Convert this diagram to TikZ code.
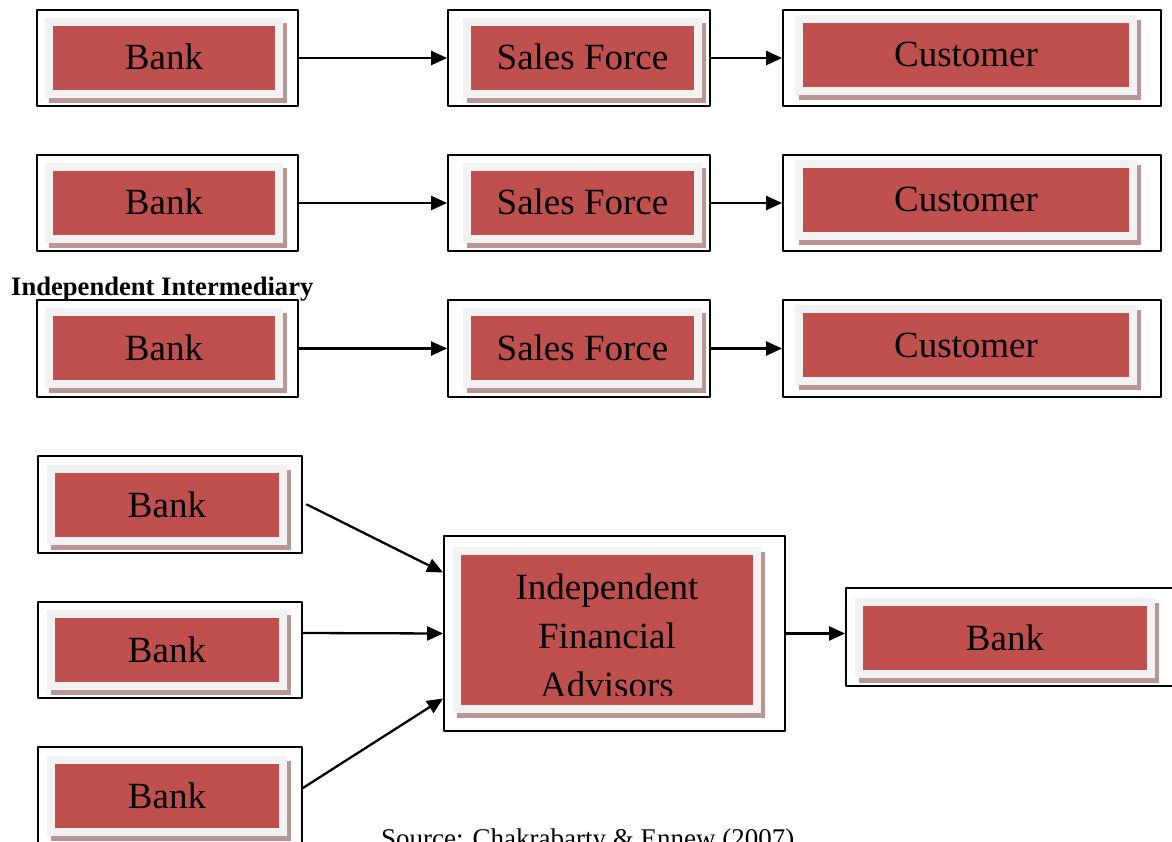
\documentclass[tikz,border=0pt]{standalone}
\usepackage{fontspec}
\setmainfont{Liberation Serif}
\usepackage{tikz}
\usetikzlibrary{arrows.meta}
\usetikzlibrary{positioning}
\usetikzlibrary{calc,fit}

\definecolor{panelred}{HTML}{C0504D}
\definecolor{panelgray}{HTML}{F2F2F2}
\definecolor{shadowbrown}{HTML}{B99595}

% shadow, light frame, red panel and its text
\newcommand{\redpanel}[4]{%
\fill[shadowbrown] ($#2+(4,5)$) rectangle ($#3+(4,5)$);
\fill[panelgray] #2 rectangle #3;
\fill[panelred] ($#2+(8,8)$) rectangle ($#3+(-8,-8)$);
\path ($#2!0.5!#3$) ++(0,12) node[boxtext,anchor=base] (#1) {#4};
}

\begin{document}
\begin{tikzpicture}[x=1pt,y=-1pt,line cap=round,line join=round,
  outerbox/.style={draw=black,line width=1.8pt,inner sep=0pt,fit={#1}},
  boxtext/.style={font=\fontsize{37}{44}\selectfont,inner sep=0pt},
  flow/.style={-{Triangle[length=16pt,width=14pt]},line width=2.3pt}]
\useasboundingbox (0,0) rectangle (1172,842);
\clip (0,0) rectangle (1172,842);

% row 1
\node[outerbox={(37,10) (298,106)}] (bankA) {};
\node[outerbox={(448,10) (710,106)}] (salesA) {};
\node[outerbox={(783,10) (1161,106)}] (custA) {};
\redpanel{bankAt}{(45,18)}{(283,98)}{Bank}
\redpanel{salesAt}{(463,18)}{(702,98)}{Sales Force}
\redpanel{custAt}{(795,15)}{(1137,95)}{Customer}

% row 2
\node[outerbox={(37,155) (298,251)}] (bankB) {};
\node[outerbox={(448,155) (710,251)}] (salesB) {};
\node[outerbox={(783,155) (1161,251)}] (custB) {};
\redpanel{bankBt}{(45,163)}{(283,243)}{Bank}
\redpanel{salesBt}{(463,163)}{(702,243)}{Sales Force}
\redpanel{custBt}{(795,160)}{(1137,240)}{Customer}

% row 3
\node[anchor=base west,inner sep=0pt,font=\fontsize{26.6}{30}\selectfont\bfseries] (indep) at (11,295) {Independent Intermediary};
\node[outerbox={(37,300) (298,397)}] (bankC) {};
\node[outerbox={(448,300) (710,397)}] (salesC) {};
\node[outerbox={(783,300) (1161,397)}] (custC) {};
\redpanel{bankCt}{(45,308)}{(283,388)}{Bank}
\redpanel{salesCt}{(463,308)}{(702,388)}{Sales Force}
\redpanel{custCt}{(795,305)}{(1137,385)}{Customer}

\draw[flow] (bankA) -- (salesA);
\draw[flow] (salesA) -- (custA);
\draw[flow] (bankB) -- (salesB);
\draw[flow] (salesB) -- (custB);
\draw[flow] (bankC) -- (salesC);
\draw[flow] (salesC) -- (custC);

% advisors
\node[outerbox={(38,456) (302,553)}] (bankD) {};
\node[outerbox={(38,602) (302,698)}] (bankE) {};
\node[outerbox={(38,747) (302,845)}] (bankF) {};
\node[outerbox={(444,536) (785,731)}] (ifa) {};
\node[outerbox={(846,588) (1190,686)}] (bankG) {};
\redpanel{bankDt}{(47,465)}{(287,545)}{Bank}
\redpanel{bankEt}{(47,610)}{(287,690)}{Bank}
\redpanel{bankFt}{(47,756)}{(287,836)}{Bank}
\redpanel{ifat}{(453,547)}{(761,713)}{}
\redpanel{bankGt}{(855,598)}{(1155,678)}{Bank}
\begin{scope}
\clip (461,555) rectangle (753,695);
\node[boxtext,anchor=base,align=center,font=\fontsize{37}{49}\selectfont] (ifalbl) at (607,697) {Independent\\Financial\\Advisors};
\end{scope}

\draw[flow] ([xshift=4pt]bankD.east) -- ([yshift=61pt]ifa.west);
\draw[flow] ([yshift=17pt]bankE.east) -- (ifa.west);
\draw[flow] ([yshift=8pt]bankF.east) -- ([yshift=-65pt]ifa.west);
\draw[flow] (ifa.east) -- (ifa.east -| bankG.west);

\node[anchor=base west,inner sep=0pt,font=\fontsize{27}{32}\selectfont] (source) at (381,847) {Source: Chakrabarty \& Ennew (2007)};
\end{tikzpicture}
\end{document}
